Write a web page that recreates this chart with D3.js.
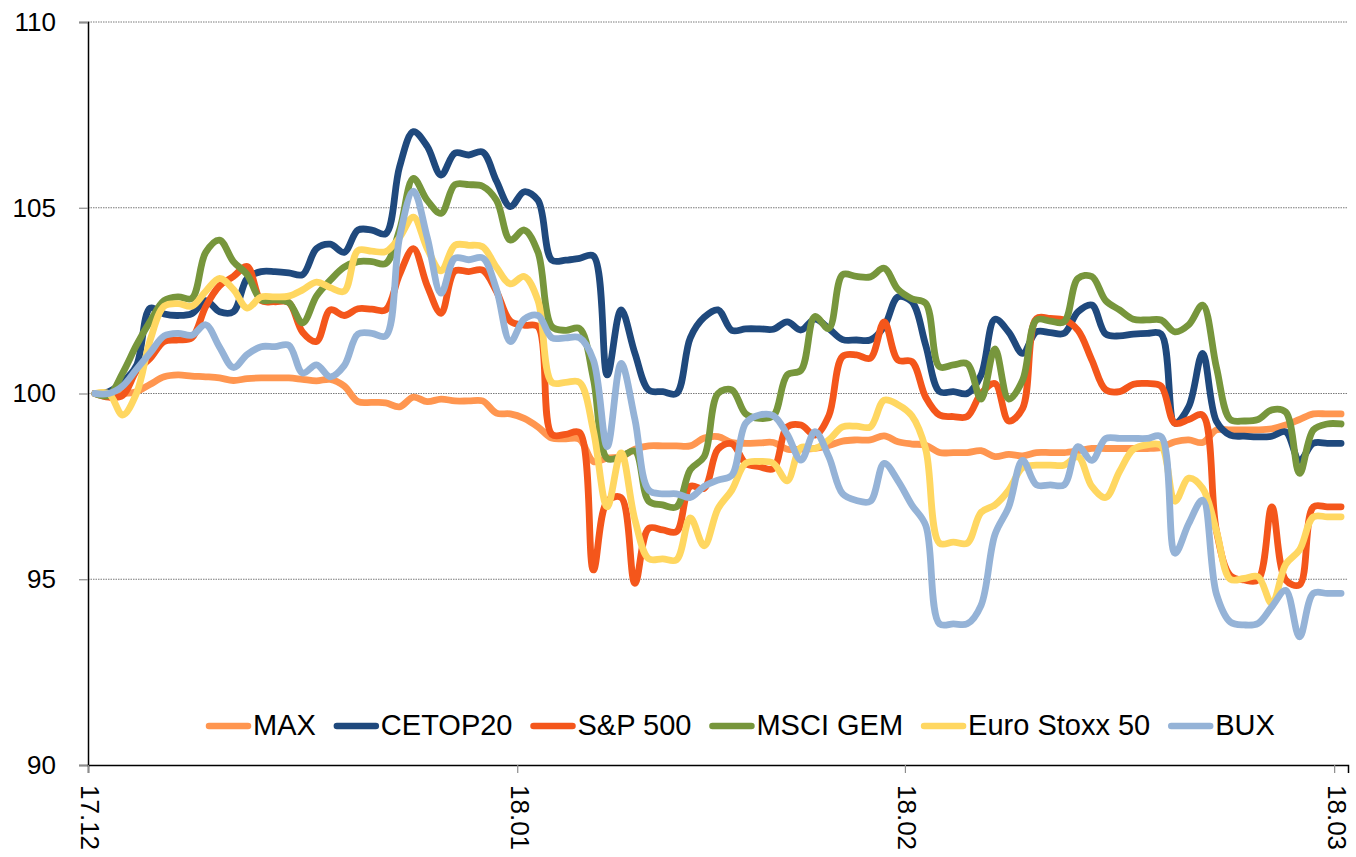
<!DOCTYPE html>
<html>
<head>
<meta charset="utf-8">
<script src="https://cdn.jsdelivr.net/npm/d3@7"></script>
<style>
  html, body { margin: 0; padding: 0; background: #fff; }
  svg text { font-family: "Liberation Sans", Arial, Helvetica, sans-serif; fill: #000; }
</style>
</head>
<body>
<svg id="chart" width="1356" height="857"></svg>
<script>
// ---- data ----
const seriesNames = ["MAX", "CETOP20", "S&P 500", "MSCI GEM", "Euro Stoxx 50", "BUX"];
const seriesColors = ["#FF9650", "#1F497D", "#F4561B", "#77963C", "#FFD761", "#95B3D7"];

const tickLabels = ["17.12", "18.01", "18.02", "18.03"];
const tickDays = [-0.5, 30.5, 58.5, 89.5];
const yTicks = [90, 95, 100, 105, 110];
const yGrid = [95, 100, 105, 110];

const maxValues = [100.0,100.0,100.0,100.05,100.25,100.45,100.5,100.47,100.45,100.42,
 100.35,100.4,100.42,100.42,100.42,100.38,100.34,100.38,100.2,99.78,
 99.76,99.75,99.64,99.9,99.78,99.85,99.8,99.8,99.8,99.47,
 99.45,99.33,99.1,98.8,98.78,98.77,98.17,98.26,98.3,98.5,
 98.59,98.59,98.59,98.59,98.8,98.84,98.68,98.66,98.67,98.68,
 98.5,98.5,98.52,98.6,98.72,98.75,98.75,98.86,98.7,98.64,
 98.61,98.41,98.41,98.41,98.46,98.3,98.36,98.32,98.41,98.41,
 98.41,98.46,98.52,98.52,98.52,98.52,98.52,98.55,98.7,98.75,
 98.68,99.02,99.02,99.02,99.02,99.05,99.15,99.3,99.45,99.45,
 99.45];

const cetopValues = [100.0,100.05,100.3,100.75,102.3,102.14,102.1,102.15,102.5,102.2,
 102.2,103.1,103.28,103.28,103.25,103.2,103.9,104.02,103.8,104.4,
 104.4,104.3,106.1,107.05,106.65,105.88,106.47,106.42,106.5,105.72,
 105.03,105.43,105.2,103.59,103.59,103.64,103.7,100.5,102.25,101.08,
 100.09,100.05,100.0,101.5,102.05,102.25,101.7,101.74,101.74,101.73,
 101.93,101.71,102.0,101.75,101.45,101.44,101.44,101.8,102.6,102.47,
 101.3,100.05,100.05,100.0,100.5,102.0,101.65,101.08,101.66,101.64,
 101.62,102.2,102.38,101.6,101.55,101.6,101.62,101.6,99.2,99.65,
 101.08,99.25,98.88,98.85,98.83,98.85,98.97,98.2,98.66,98.66,
 98.66];

const spValues = [100.0,99.9,99.95,100.6,100.95,101.4,101.44,101.5,102.34,102.9,
 103.15,103.42,102.5,102.47,102.45,101.65,101.4,102.25,102.1,102.28,
 102.27,102.25,103.2,103.9,102.9,102.16,103.3,103.28,103.32,102.75,
 101.95,101.84,101.8,98.9,98.9,98.95,95.25,97.1,97.2,94.89,
 96.37,96.33,96.28,97.5,97.45,98.5,98.65,98.12,98.03,97.98,
 99.1,99.15,98.88,99.4,101.0,101.04,100.95,101.93,100.9,100.86,
 99.9,99.42,99.38,99.38,100.0,100.27,99.26,99.6,102.02,102.02,
 101.98,101.7,100.9,100.1,100.05,100.25,100.27,100.2,99.2,99.3,
 99.42,96.3,95.1,94.98,94.98,96.95,94.98,94.85,96.95,96.95,
 96.95];

const msciValues = [100.0,99.95,100.55,101.3,101.95,102.5,102.6,102.56,103.8,104.13,
 103.55,103.2,102.52,102.52,102.45,101.9,102.62,103.05,103.4,103.55,
 103.55,103.5,104.4,105.79,105.2,104.85,105.62,105.62,105.58,105.2,
 104.13,104.4,103.8,101.8,101.7,101.75,100.4,98.25,98.3,98.45,
 97.1,97.0,96.95,97.95,98.3,100.0,100.1,99.45,99.33,99.4,
 100.5,100.63,102.07,101.75,103.2,103.15,103.14,103.37,102.8,102.55,
 102.43,100.72,100.77,100.8,99.85,101.2,99.85,100.36,101.98,101.95,
 101.93,103.1,103.15,102.5,102.25,102.0,101.98,101.98,101.66,101.85,
 102.38,100.7,99.3,99.26,99.3,99.56,99.5,97.85,99.02,99.18,
 99.18];

const euroValues = [100.0,100.0,99.42,100.0,101.45,102.35,102.42,102.35,102.75,103.1,
 102.8,102.3,102.6,102.6,102.62,102.79,103.0,102.85,102.75,103.85,
 103.83,103.82,104.2,104.75,103.9,103.3,103.99,103.99,103.95,103.4,
 102.95,103.15,102.5,100.3,100.3,100.3,99.0,96.95,98.4,96.6,
 95.55,95.55,95.52,96.65,95.9,96.9,97.4,98.12,98.17,98.12,
 97.65,98.55,98.52,98.75,99.1,99.12,99.1,99.82,99.7,99.4,
 98.5,95.97,96.0,95.97,96.8,97.0,97.4,98.0,98.07,98.07,
 98.07,98.3,97.5,97.2,97.9,98.5,98.62,98.6,97.1,97.72,
 97.45,96.3,95.0,95.02,95.07,94.35,95.4,95.79,96.68,96.68,
 96.68];

const buxValues = [100.0,100.0,100.2,100.65,101.1,101.55,101.62,101.57,101.85,101.25,
 100.7,101.05,101.26,101.26,101.3,100.55,100.77,100.45,100.75,101.6,
 101.62,101.55,104.2,105.45,104.2,102.7,103.64,103.6,103.65,102.8,
 101.4,102.0,102.1,101.5,101.5,101.5,100.9,98.57,100.81,99.3,
 97.4,97.3,97.3,97.2,97.5,97.67,97.8,99.2,99.42,99.4,
 98.9,98.21,98.97,98.3,97.3,97.12,97.1,98.12,97.65,97.0,
 96.45,93.8,93.8,93.8,94.3,96.2,96.95,98.2,97.54,97.54,
 97.54,98.57,98.2,98.79,98.79,98.79,98.79,98.84,95.7,96.5,
 97.13,94.6,93.85,93.77,93.81,94.26,94.7,93.45,94.62,94.62,
 94.62];

const allSeries = [maxValues, cetopValues, spValues, msciValues, euroValues, buxValues];

// ---- layout ----
const svg = d3.select("#chart");
const plot = { left: 88, right: 1348, top: 22, bottom: 765 };

const x = d3.scaleLinear().domain([-0.5, maxValues.length - 0.5]).range([plot.left, plot.right]);
const y = d3.scaleLinear().domain([90, 110]).range([plot.bottom, plot.top]);

// gridlines
svg.append("g").selectAll("line").data(yGrid).join("line")
  .attr("x1", plot.left).attr("x2", plot.right)
  .attr("y1", d => y(d)).attr("y2", d => y(d))
  .attr("stroke", "#7a7a7a").attr("stroke-width", 1)
  .attr("stroke-dasharray", "1.5,1");

// y axis
const yAxis = svg.append("g")
  .attr("transform", `translate(${plot.left},0)`)
  .call(d3.axisLeft(y).tickValues(yTicks).tickSize(9).tickPadding(23).tickFormat(d3.format("d")));
yAxis.select(".domain").attr("stroke", "#000").attr("stroke-width", 1.5);
yAxis.selectAll(".tick line").attr("stroke", "#8c8c8c").attr("stroke-width", 1.2);
yAxis.selectAll(".tick text").attr("font-size", 26)
  .attr("font-family", "'Liberation Sans', Arial, sans-serif").attr("fill", "#000");

// x axis
const xAxis = svg.append("g")
  .attr("transform", `translate(0,${plot.bottom})`)
  .call(d3.axisBottom(x).tickValues(tickDays).tickSize(8).tickFormat((d, i) => tickLabels[i]));
xAxis.select(".domain").attr("stroke", "#000").attr("stroke-width", 1.5);
xAxis.selectAll(".tick line").attr("stroke", "#8c8c8c").attr("stroke-width", 1.2);
xAxis.selectAll(".tick text")
  .attr("font-size", 26)
  .attr("font-family", "'Liberation Sans', Arial, sans-serif")
  .attr("fill", "#000")
  .attr("text-anchor", "start")
  .attr("transform", "translate(2,20) rotate(90)")
  .attr("x", 0).attr("y", 0).attr("dy", "0.35em");

// lines
const line = d3.line()
  .x((d, i) => x(i))
  .y(d => y(d))
  .curve(d3.curveCatmullRom.alpha(0.5));

svg.append("g").selectAll("path").data(allSeries).join("path")
  .attr("d", d => line(d))
  .attr("fill", "none")
  .attr("stroke", (d, i) => seriesColors[i])
  .attr("stroke-width", 6.8)
  .attr("stroke-linejoin", "round")
  .attr("stroke-linecap", "round");

// legend
const legend = svg.append("g");
let lx = 209;
const ly = 725;
seriesNames.forEach((name, i) => {
  const g = legend.append("g");
  g.append("line")
    .attr("x1", lx).attr("x2", lx + 39)
    .attr("y1", ly + 1).attr("y2", ly + 1)
    .attr("stroke", seriesColors[i]).attr("stroke-width", 6.5)
    .attr("stroke-linecap", "round");
  const t = g.append("text")
    .attr("x", lx + 44).attr("y", ly)
    .attr("dy", "0.35em")
    .attr("font-size", 29)
    .text(name);
  const w = t.node().getComputedTextLength();
  lx = lx + 44 + w + 21;
});
</script>
</body>
</html>
